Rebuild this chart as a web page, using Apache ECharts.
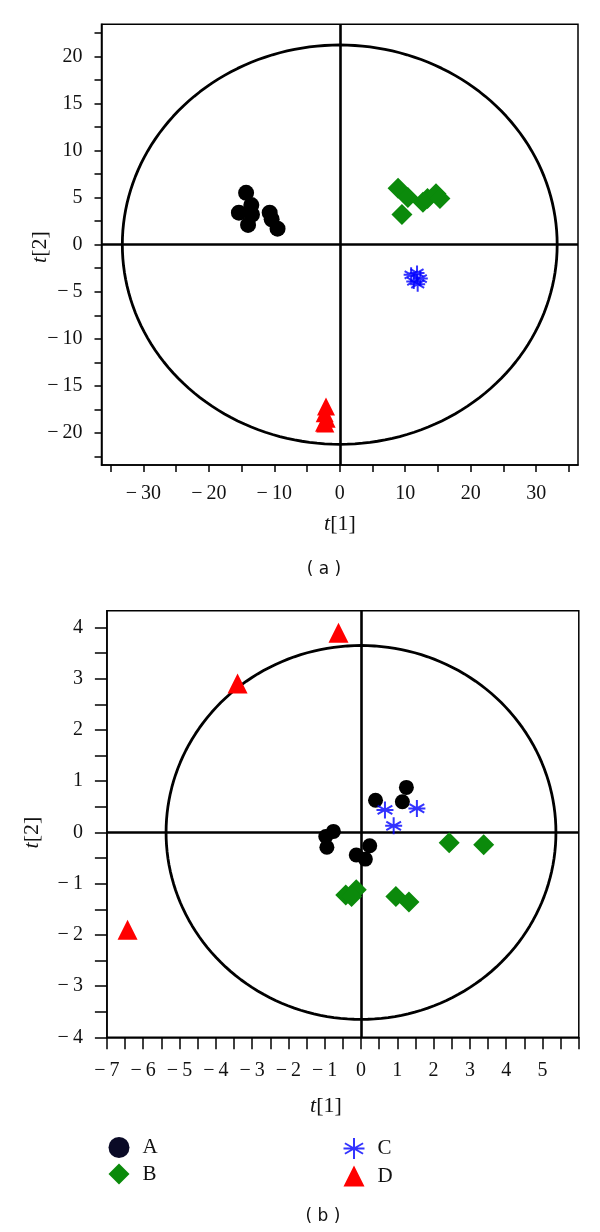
<!DOCTYPE html>
<html>
<head>
<meta charset="utf-8">
<script src="https://cdn.jsdelivr.net/npm/echarts@6/dist/echarts.min.js"></script>
<style>
  html, body { margin: 0; padding: 0; background: #fff; }
  #main { width: 600px; height: 1232px; }
</style>
</head>
<body>
<div id="main"></div>
<script>
// (a) score plot
const topA = [[-14.3, 5.5], [-13.5, 4.2], [-15.4, 3.4], [-14.0, 2.1], [-13.4, 3.2],
              [-10.7, 3.4], [-10.4, 2.7], [-9.5, 1.7]];
const topB = [[8.9, 6.0], [10.4, 5.0], [9.5, 3.2], [12.7, 4.5], [13.4, 4.9], [14.7, 5.4], [15.3, 4.9]];
const topC = [[10.9, -3.2], [11.8, -3.0], [12.3, -3.6], [11.3, -3.9], [11.9, -4.2]];
const topD = [[-2.1, -17.2], [-2.3, -17.9], [-2.0, -18.5], [-2.4, -18.9], [-2.2, -19.0]];
const topEllipse = [33.2, 21.2];
const topXTicks = [-35, -30, -25, -20, -15, -10, -5, 0, 5, 10, 15, 20, 25, 30, 35];
const topXLabels = [-30, -20, -10, 0, 10, 20, 30];
const topYTicks = [-22.5, -20, -17.5, -15, -12.5, -10, -7.5, -5, -2.5, 0, 2.5, 5, 7.5, 10, 12.5, 15, 17.5, 20, 22.5];
const topYLabels = [-20, -15, -10, -5, 0, 5, 10, 15, 20];

// (b) score plot
const botA = [[1.25, 0.88], [0.40, 0.63], [1.14, 0.60], [-0.76, 0.02], [-0.97, -0.08],
              [-0.94, -0.29], [-0.13, -0.44], [0.24, -0.26], [0.12, -0.52]];
const botB = [[2.43, -0.20], [3.38, -0.24], [-0.42, -1.22], [-0.13, -1.12], [-0.26, -1.25],
              [0.96, -1.25], [1.32, -1.36]];
const botC = [[0.66, 0.44], [0.90, 0.13], [1.54, 0.47]];
const botD = [[-0.62, 3.90], [-3.40, 2.91], [-6.43, -1.90]];
const botEllipse = [5.37, 3.65];
const botXTicks = [-7, -6.5, -6, -5.5, -5, -4.5, -4, -3.5, -3, -2.5, -2, -1.5, -1, -0.5, 0,
                   0.5, 1, 1.5, 2, 2.5, 3, 3.5, 4, 4.5, 5, 5.5, 6];
const botXLabels = [-7, -6, -5, -4, -3, -2, -1, 0, 1, 2, 3, 4, 5];
const botYTicks = [-4, -3.5, -3, -2.5, -2, -1.5, -1, -0.5, 0, 0.5, 1, 1.5, 2, 2.5, 3, 3.5, 4];
const botYLabels = [-4, -3, -2, -1, 0, 1, 2, 3, 4];

const groupNames = ['A', 'B', 'C', 'D'];
const groupColors = ['#000000', '#0b8a0b', '#0000ff', '#ff0000'];

const asterisk = 'path://M0,-10L0,10M-8.66,-5L8.66,5M-8.66,5L8.66,-5M-10,0L10,0';
const serif = 'Liberation Serif';

function ellipsePoints(r) {
    const pts = [];
    for (let i = 0; i <= 180; i++) {
        const a = i / 180 * Math.PI * 2;
        pts.push([r[0] * Math.cos(a), r[1] * Math.sin(a)]);
    }
    return pts;
}

function fmt(v) {
    return v < 0 ? '\u2212\u2009' + Math.abs(v) : String(v);
}

function valueAxis(gridIndex, min, max, ticks, labels, tickLen, margin) {
    return {
        type: 'value',
        gridIndex: gridIndex,
        min: min,
        max: max,
        splitLine: { show: false },
        axisLine: { show: true, onZero: false, lineStyle: { color: '#000', width: 1.5 } },
        axisTick: { show: true, length: tickLen, customValues: ticks, lineStyle: { color: '#000', width: 1.5 } },
        axisLabel: {
            customValues: labels, margin: margin, formatter: fmt,
            fontFamily: serif, fontSize: 20, color: '#111'
        }
    };
}

function groupSeries(axisIndex, data, sizes) {
    return data.map(function (d, i) {
        const s = {
            name: groupNames[i],
            type: 'scatter',
            xAxisIndex: axisIndex,
            yAxisIndex: axisIndex,
            data: d,
            z: 5,
            symbolSize: sizes[i],
            itemStyle: { color: groupColors[i], opacity: 1 }
        };
        if (i === 0) s.symbol = 'circle';
        if (i === 1) s.symbol = 'diamond';
        if (i === 2) {
            s.symbol = asterisk;
            s.itemStyle = { color: groupColors[i], borderColor: groupColors[i], borderWidth: 2 };
        }
        if (i === 3) s.symbol = 'triangle';
        return s;
    });
}

function ellipseSeries(axisIndex, r) {
    return {
        type: 'line',
        xAxisIndex: axisIndex,
        yAxisIndex: axisIndex,
        data: ellipsePoints(r),
        showSymbol: false,
        silent: true,
        z: 2,
        lineStyle: { color: '#000', width: 2.8 },
        markLine: {
            silent: true,
            symbol: 'none',
            label: { show: false },
            lineStyle: { color: '#000', width: 2.6, type: 'solid' },
            data: [{ xAxis: 0 }, { yAxis: 0 }]
        }
    };
}

function nameText(x, y, idx, rotate) {
    return {
        type: 'text',
        x: x,
        y: y,
        rotation: rotate ? Math.PI / 2 : 0,
        style: {
            text: '{i|t}[' + idx + ']',
            align: 'center',
            verticalAlign: 'middle',
            fontFamily: serif,
            fontSize: 22,
            fill: '#111',
            rich: { i: { fontStyle: 'italic', fontFamily: serif, fontSize: 22 } }
        }
    };
}

const legendBase = {
    orient: 'vertical',
    top: 1132,
    itemWidth: 21,
    itemHeight: 21,
    itemGap: 5.6,
    selectedMode: false,
    textStyle: { fontFamily: serif, fontSize: 21, color: '#111', padding: [0, 0, 0, 8] }
};

const chart = echarts.init(document.getElementById('main'));
const options = {
    animation: false,
    grid: [
        { left: 101.5, top: 24.3, width: 476.5, height: 440.7, show: true, borderColor: '#000', borderWidth: 1.5 },
        { left: 106.9, top: 610.7, width: 471.9, height: 426.6, show: true, borderColor: '#000', borderWidth: 1.5 }
    ],
    xAxis: [
        valueAxis(0, -36.38, 36.38, topXTicks, topXLabels, 7, 19),
        valueAxis(1, -7, 6, botXTicks, botXLabels, 12, 23)
    ],
    yAxis: [
        valueAxis(0, -23.4, 23.4, topYTicks, topYLabels, 7, 19),
        valueAxis(1, -4, 4.33, botYTicks, botYLabels, 12, 24)
    ],
    legend: [
        Object.assign({ left: 103.5, data: [{ name: 'A', itemStyle: { color: '#0a0a26' } }, 'B'] }, legendBase),
        Object.assign({ left: 337.5, data: ['C', 'D'] }, legendBase)
    ],
    graphic: [
        nameText(40, 247, 2, true),
        nameText(340, 524, 1, false),
        nameText(32, 832.5, 2, true),
        nameText(326, 1106, 1, false),
        {
            type: 'text', x: 324, y: 570,
            style: { text: '( a )', align: 'center', verticalAlign: 'middle', fontFamily: 'DejaVu Sans', fontSize: 17, fill: '#111' }
        },
        {
            type: 'text', x: 323, y: 1217,
            style: { text: '( b )', align: 'center', verticalAlign: 'middle', fontFamily: 'DejaVu Sans', fontSize: 17, fill: '#111' }
        }
    ],
    series: [ellipseSeries(0, topEllipse)]
        .concat(groupSeries(0, [topA, topB, topC, topD], [16, 21, 15, 18]))
        .concat([ellipseSeries(1, botEllipse)])
        .concat(groupSeries(1, [botA, botB, botC, botD], [15, 21, 17, 20]))
};
chart.setOption(options);
</script>
</body>
</html>
